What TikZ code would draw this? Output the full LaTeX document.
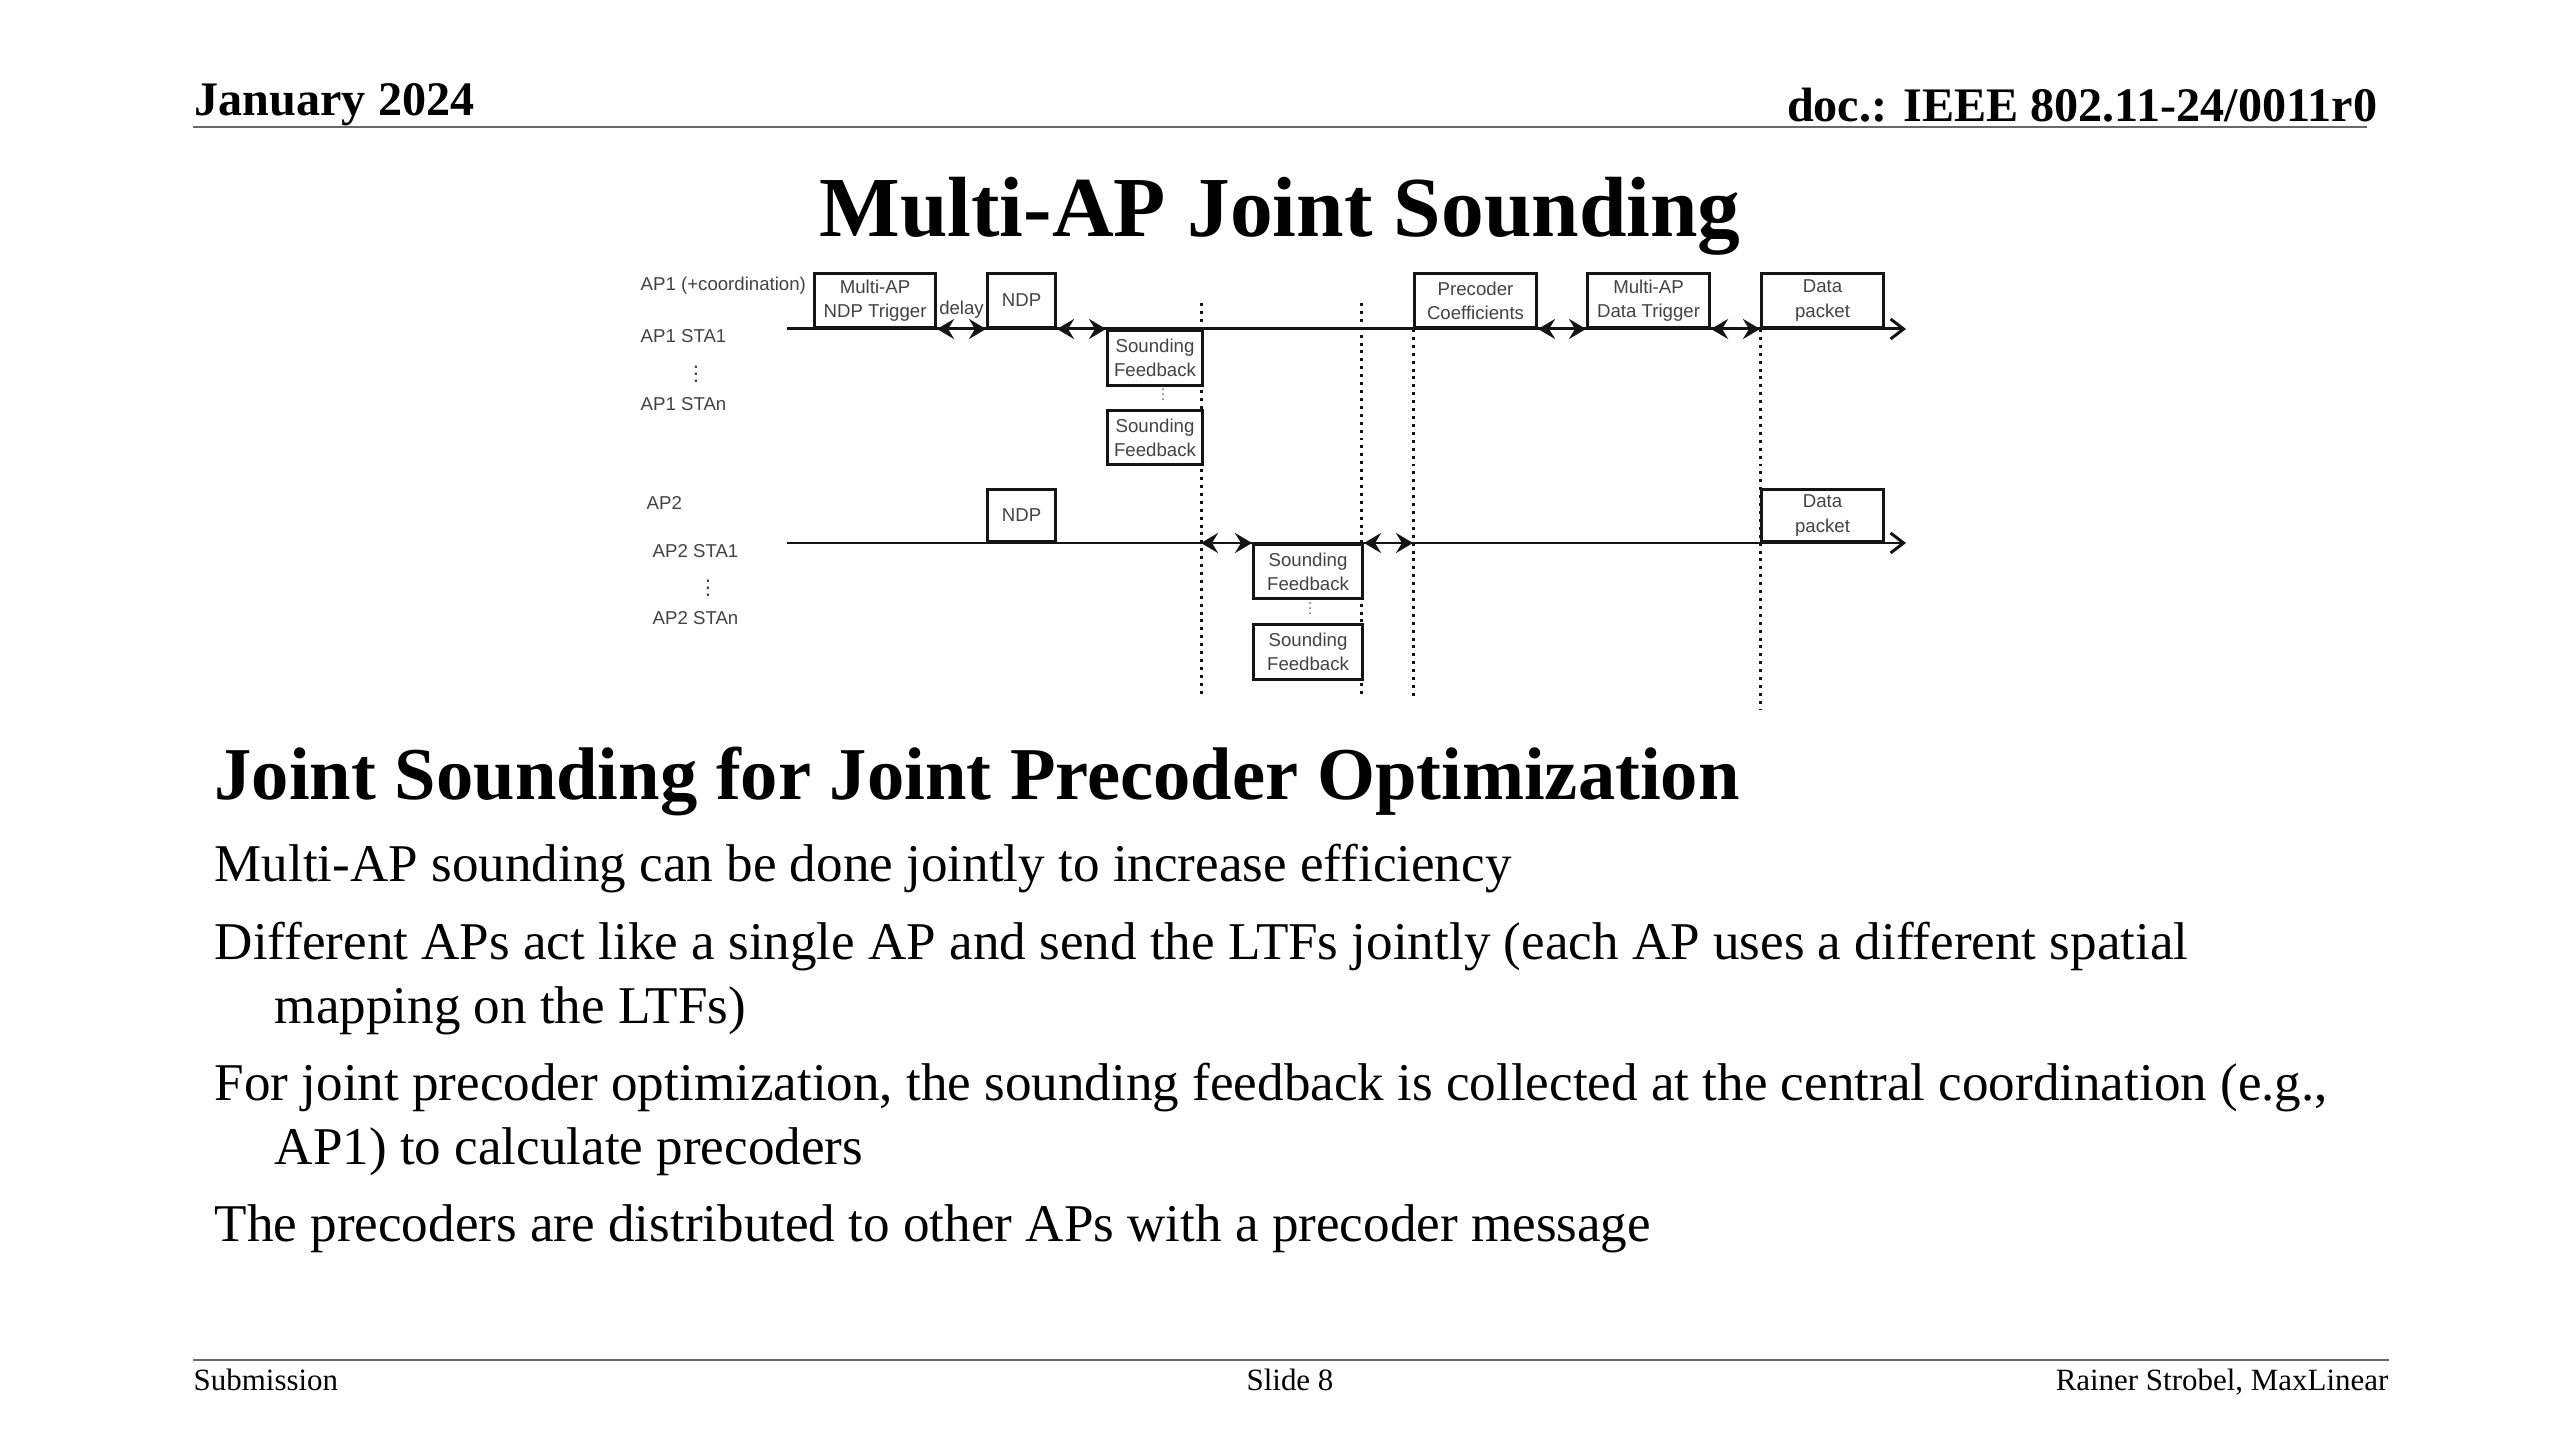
\documentclass[tikz,border=0pt]{standalone}
\usepackage{fontspec}
\setmainfont{Liberation Serif}
\newfontfamily\diagfont{Liberation Sans}
\usetikzlibrary{positioning,arrows.meta,calc}
\definecolor{ink}{RGB}{20,20,20}
\definecolor{rulegray}{RGB}{105,105,105}
\newcommand{\tripledot}[1]{\vbox{\baselineskip=#1\lineskiplimit=-10pt\hbox{.}\hbox{.}\hbox{.}}}
\tikzset{
  frame/.style={draw=ink, line width=0.85pt, fill=white, align=center, inner sep=0pt,
                font=\diagfont\fontsize{5.3pt}{6.9pt}\selectfont, text=ink!80},
  rowlbl/.style={font=\diagfont\fontsize{5.3pt}{6.9pt}\selectfont, text=ink!80, inner sep=0pt},
  vdot/.style={font=\diagfont\fontsize{6.5pt}{7pt}\selectfont, text=ink!80, inner sep=0pt},
  timeline/.style={line width=0.85pt, draw=ink, -{Straight Barb[length=0.13cm, width=0.2cm]}},
  gaparr/.style={line width=0.85pt, draw=ink,
                 {Stealth[length=0.17cm, width=0.2cm, inset=0.06cm]}-{Stealth[length=0.17cm, width=0.2cm, inset=0.06cm]}},
  cutline/.style={line width=0.85pt, draw=ink, dash pattern=on 0.85pt off 1.4pt},
  hdr/.style={font=\bfseries\fontsize{13.7pt}{16pt}\selectfont, inner sep=0pt},
  ttl/.style={font=\bfseries\fontsize{24.3pt}{28pt}\selectfont, inner sep=0pt},
  subhd/.style={font=\bfseries\fontsize{21.2pt}{25pt}\selectfont, inner sep=0pt, anchor=base west},
  body/.style={font=\fontsize{15.1pt}{18pt}\selectfont, inner sep=0pt, anchor=base west},
  foot/.style={font=\fontsize{8.8pt}{10pt}\selectfont, inner sep=0pt},
  rulel/.style={draw=rulegray, line width=0.8pt},
}

\begin{document}
\begin{tikzpicture}[x=0.01cm, y=-0.01cm]
  \fill[white] (0,0) rectangle (2560,1440);
  \useasboundingbox (0,0) rectangle (2560,1440);

  \node[hdr, anchor=base west] (date) at (194,116) {January 2024};
  \node[hdr, anchor=base east] (docid) at (2378,122) {doc.: IEEE 802.11-24/0011r0};
  \coordinate (hdrl) at (193,127);
  \coordinate (hdrr) at (2367,127);
  \draw[rulel] (hdrl) -- (hdrr);

  \node[ttl, anchor=base] (title) at (1280,237) {Multi-AP Joint Sounding};

  % row labels
  \node[rowlbl, anchor=base west] (lap1) at (640,291) {AP1 (+coordination)};
  \node[rowlbl, anchor=base west] (lap1s1) at (640,343) {AP1 STA1};
  \node[vdot] (lap1dots) at (696,374) {\tripledot{2pt}};
  \node[rowlbl, anchor=base west] (lap1sn) at (640,411) {AP1 STAn};
  \node[rowlbl, anchor=base west] (lap2) at (646,510) {AP2};
  \node[rowlbl, anchor=base west] (lap2s1) at (652,558) {AP2 STA1};
  \node[vdot] (lap2dots) at (708,588) {\tripledot{2pt}};
  \node[rowlbl, anchor=base west] (lap2sn) at (652,625) {AP2 STAn};

  \coordinate (ap1start) at (787,329);
  \coordinate (ap1end) at (1906,329);
  \coordinate (ap2start) at (787,543);
  \coordinate (ap2end) at (1906,543);
  \draw[timeline] (ap1start) -- (ap1end);
  \draw[timeline] (ap2start) -- (ap2end);

  \coordinate (cut1top) at (1201,303);
  \coordinate (cut1bot) at (1201,697);
  \coordinate (cut2top) at (1361,303);
  \coordinate (cut2bot) at (1361,697);
  \coordinate (cut3bot) at (1413,697);
  \coordinate (cut4bot) at (1760,710);
  \draw[cutline] (cut1top) -- (cut1bot);
  \draw[cutline] (cut2top) -- (cut2bot);

  % AP1 row
  \node[frame, anchor=south west, minimum width=1.21cm, minimum height=0.54cm] (trig) at (813,329) {Multi-AP\\NDP Trigger};
  \node[frame, anchor=south west, minimum width=0.68cm, minimum height=0.54cm] (ndpa) at (986,329) {NDP};
  \node[frame, anchor=north west, minimum width=0.95cm, minimum height=0.55cm] (sfa1) at (1106,329) {Sounding\\Feedback};
  \node[frame, anchor=north west, minimum width=0.95cm, minimum height=0.54cm] (sfan) at (1106,409) {Sounding\\Feedback};
  \node[vdot, font=\diagfont\fontsize{4.5pt}{5pt}\selectfont, text=ink!60] (sfadots) at (1163,395) {\tripledot{1.4pt}};
  \node[frame, anchor=south west, minimum width=1.22cm, minimum height=0.54cm] (prec) at (1413,329) {Precoder\\Coefficients};
  \node[frame, anchor=south west, minimum width=1.22cm, minimum height=0.54cm] (mdtr) at (1586,329) {Multi-AP\\Data Trigger};
  \node[frame, anchor=south west, minimum width=1.22cm, minimum height=0.54cm] (data1) at (1760,329) {Data\\packet};

  \draw[cutline] (prec.south west) -- (cut3bot);
  \draw[cutline] (data1.south west) -- (cut4bot);

  % AP2 row
  \node[frame, anchor=south west, minimum width=0.68cm, minimum height=0.52cm] (ndpb) at (986,543) {NDP};
  \node[frame, anchor=north west, minimum width=1.09cm, minimum height=0.54cm] (sfb1) at (1252,543) {Sounding\\Feedback};
  \node[frame, anchor=north west, minimum width=1.09cm, minimum height=0.55cm] (sfbn) at (1252,623) {Sounding\\Feedback};
  \node[vdot, font=\diagfont\fontsize{4.5pt}{5pt}\selectfont, text=ink!60] (sfbdots) at (1310,609) {\tripledot{1.4pt}};
  \node[frame, anchor=south west, minimum width=1.22cm, minimum height=0.52cm] (data2) at (1760,543) {Data\\packet};

  \draw[gaparr] (trig.south east) -- (ndpa.south west)
    node[midway, rowlbl, above=0.09cm] (dly) {delay};
  \draw[gaparr] (ndpa.south east) -- (sfa1.north west);
  \draw[gaparr] (prec.south east) -- (mdtr.south west);
  \draw[gaparr] (mdtr.south east) -- (data1.south west);
  \draw[gaparr] (cut1top |- sfb1.north west) -- (sfb1.north west);
  \draw[gaparr] (sfb1.north east) -- (prec.south west |- sfb1.north east);

  % slide text
  \node[subhd] (subtitle) at (214,800) {Joint Sounding for Joint Precoder Optimization};
  \node[body] (pt1) at (214,881) {Multi-AP sounding can be done jointly to increase efficiency};
  \node[body] (pt2) at (214,959) {Different APs act like a single AP and send the LTFs jointly (each AP uses a different spatial};
  \node[body] (pt2b) at (274,1023) {mapping on the LTFs)};
  \node[body] (pt3) at (214,1100) {For joint precoder optimization, the sounding feedback is collected at the central coordination (e.g.,};
  \node[body] (pt3b) at (274,1164) {AP1) to calculate precoders};
  \node[body] (pt4) at (214,1241) {The precoders are distributed to other APs with a precoder message};

  \coordinate (ftl) at (193,1360);
  \coordinate (ftr) at (2389,1360);
  \draw[rulel] (ftl) -- (ftr);
  \node[foot, anchor=base west] (subm) at (193,1390) {Submission};
  \node[foot, anchor=base] (slide) at (1290,1390) {Slide 8};
  \node[foot, anchor=base east] (auth) at (2389,1390) {Rainer Strobel, MaxLinear};
\end{tikzpicture}
\end{document}
